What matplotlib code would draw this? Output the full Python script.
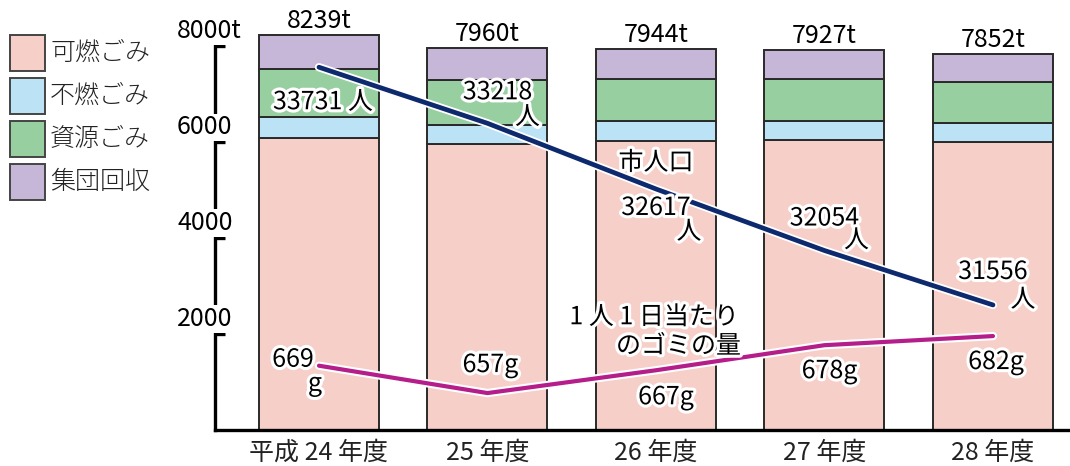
import matplotlib.pyplot as plt
import matplotlib.patheffects as pe
from matplotlib.patches import Rectangle
import numpy as np

plt.rcParams['font.family'] = ['Noto Sans CJK JP', 'DejaVu Sans']

# data
years = ['平成 24 年度', '25 年度', '26 年度', '27 年度', '28 年度']
categories = ['可燃ごみ', '不燃ごみ', '資源ごみ', '集団回収']
burnable = [6091, 5960, 6035, 6049, 6014]
nonburnable = [438, 409, 405, 403, 396]
recyclable = [1001, 932, 889, 863, 855]
group_collection = [709, 659, 615, 612, 587]
totals = [8239, 7960, 7944, 7927, 7852]
population = [33731, 33218, 32617, 32054, 31556]
grams_per_day = [669, 657, 667, 678, 682]
y_ticks = [2000, 4000, 6000, 8000]
y_tick_labels = ['2000', '4000', '6000', '8000t']

colors = ['#f6cfc9', '#bce2f6', '#98cfa1', '#c6b6d8']
navy = '#0e2a6e'
magenta = '#b51e8a'
FS = 18

W, H = 1070, 466
fig = plt.figure(figsize=(W / 100, H / 100), dpi=100)
ax = fig.add_axes([215 / W, 36 / H, 855 / W, 430 / H])

x = np.arange(len(years))
bottom = np.zeros(len(years))
for vals, c in zip([burnable, nonburnable, recyclable, group_collection], colors):
    ax.bar(x, vals, width=0.712, bottom=bottom, color=c, edgecolor='#2a2a2a',
           linewidth=1.4, zorder=2)
    bottom += np.array(vals)

ax.set_xlim(-0.617, 4.457)
ax.set_ylim(0, 8970)

for spine in ['top', 'right']:
    ax.spines[spine].set_visible(False)
ax.spines['left'].set_bounds(0, 8000)
ax.spines['left'].set_linewidth(2.4)
ax.spines['bottom'].set_linewidth(2.4)
ax.set_yticks(y_ticks)
ax.tick_params(axis='y', direction='in', length=7, width=2.4, labelleft=False)
ax.set_xticks(x)
ax.set_xticklabels(years, fontsize=FS, color='#222222')
ax.tick_params(axis='x', length=0, pad=7)

for v, lab in zip(y_ticks, y_tick_labels):
    ax.annotate(lab, xy=(-0.0444, v), xycoords=('axes fraction', 'data'),
                xytext=(0, 8), textcoords='offset pixels', ha='left', va='baseline',
                fontsize=FS, zorder=5, annotation_clip=False,
                bbox=dict(facecolor='white', edgecolor='none', pad=0.5))

# totals above bars
for xi, t in zip(x, totals):
    ax.annotate(f'{t}t', xy=(xi, t), xytext=(0, 7), textcoords='offset pixels',
                ha='center', va='baseline', fontsize=FS)

halo = [pe.withStroke(linewidth=4.5, foreground='white')]
line_fx = [pe.Stroke(linewidth=6, foreground='white'), pe.Normal()]

# population line on its own scale
ax_pop = ax.twinx()
ax_pop.set_ylim(30412, 34346)
ax_pop.set_axis_off()
ax_pop.plot(x, population, color=navy, lw=3.4, solid_capstyle='round',
            solid_joinstyle='miter', path_effects=line_fx, zorder=3)

# gram line on its own scale
ax_g = ax.twinx()
ax_g.set_ylim(640.8, 829.4)
ax_g.set_axis_off()
ax_g.plot(x, grams_per_day, color=magenta, lw=3.0, solid_capstyle='round',
          path_effects=line_fx, zorder=3)


def label(a, xi, yi, text, dx, dy, ha='center'):
    a.annotate(text, xy=(xi, yi), xytext=(dx, -dy), textcoords='offset pixels',
               ha=ha, va='center', fontsize=FS, path_effects=halo, zorder=6)


# population labels (number, unit)
pop_num_off = [(4, 35), (10, -31), (0, 19), (0, -32), (0, -33)]
pop_unit_off = [None, (40, -6), (33, 43), (32, -10), (30, -5)]
for i, p in enumerate(population):
    if pop_unit_off[i] is None:
        label(ax_pop, x[i], p, f'{p} 人', *pop_num_off[i])
    else:
        label(ax_pop, x[i], p, f'{p}', *pop_num_off[i])
        label(ax_pop, x[i], p, '人', *pop_unit_off[i])
label(ax_pop, x[2], population[2], '市人口', 0, -26)

# gram labels
g_off = [(-26, -6), (3, -28), (10, 27), (5, 26), (3, 26)]
for i, g in enumerate(grams_per_day):
    if i == 0:
        label(ax_g, x[i], g, f'{g}', *g_off[i])
        label(ax_g, x[i], g, 'g', -4, 18)
    else:
        label(ax_g, x[i], g, f'{g}g', *g_off[i])
label(ax_g, x[2], grams_per_day[2], '1 人 1 日当たり', 83, -53, ha='right')
label(ax_g, x[2], grams_per_day[2], 'のゴミの量', 85, -24, ha='right')

# legend drawn at the left margin
for i, (name, c) in enumerate(zip(categories, colors)):
    top = 35 + 43 * i
    fig.add_artist(Rectangle((10 / W, 1 - (top + 36) / H), 35 / W, 36 / H,
                             transform=fig.transFigure, facecolor=c,
                             edgecolor='#444444', linewidth=1.4))
    fig.text(50 / W, 1 - (top + 18) / H, name, ha='left', va='center',
             fontsize=FS, fontweight='light', color='#222222')

fig.savefig('out.png', dpi=100)
